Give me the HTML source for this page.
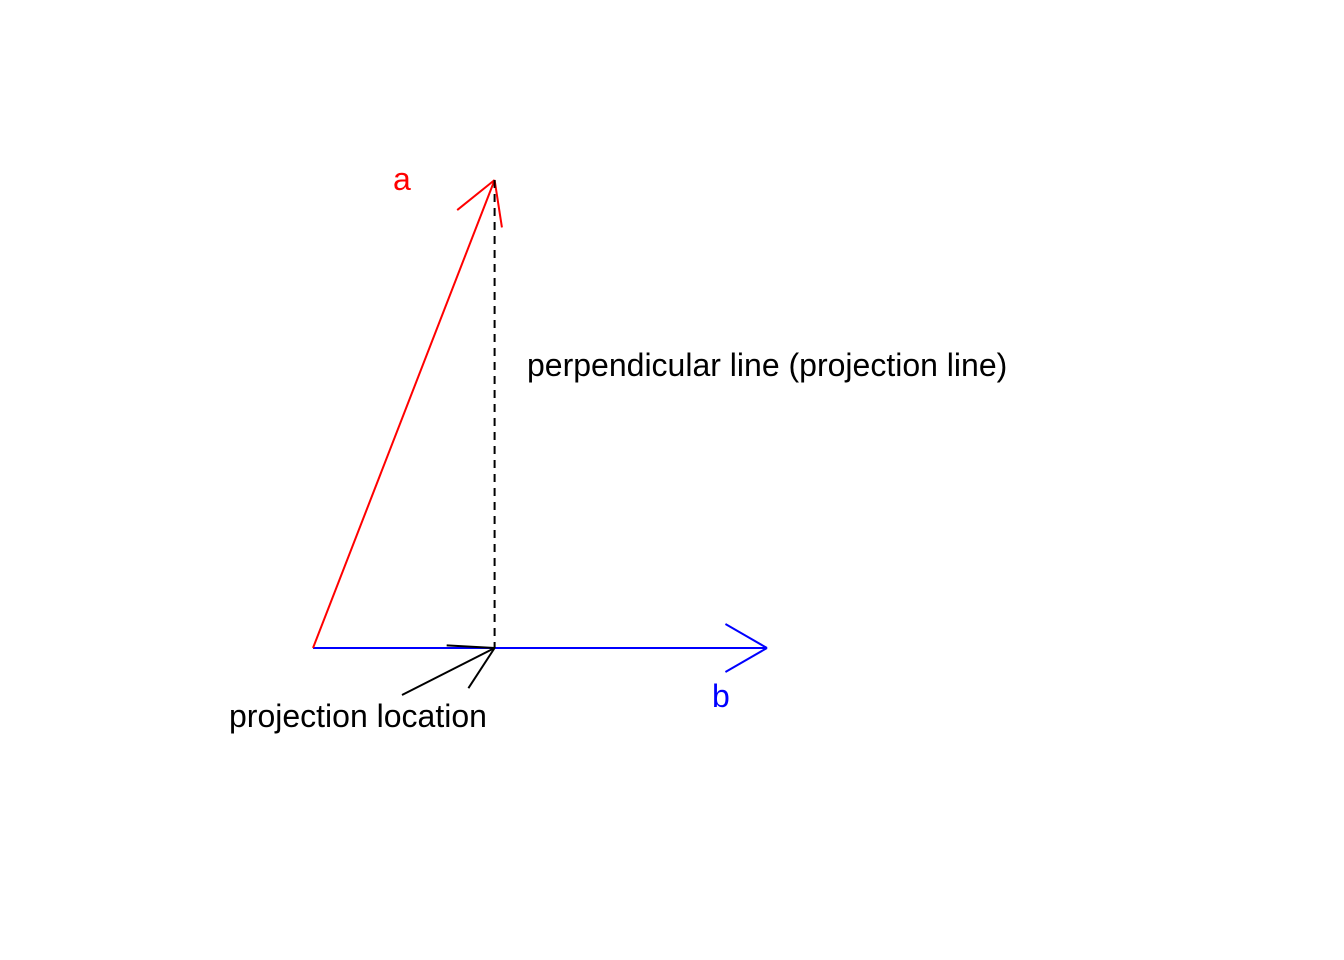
<!DOCTYPE html>
<html><head><meta charset="utf-8"><style>
html,body{margin:0;padding:0;background:#fff}
svg{display:block}
text{font-family:"Liberation Sans",Arial,sans-serif;font-size:32px}
</style></head><body>
<svg id="chart" width="1344" height="960" viewBox="0 0 1344 960"></svg>
<script>
const vecA = [2, 5];
const vecB = [5, 0];
const labels = ["a", "b", "perpendicular line (projection line)", "projection location"];
const sx = v => 313 + v * 90.8;
const sy = v => 648 - v * 93.6;
const svg = document.getElementById('chart');
const NS = 'http://www.w3.org/2000/svg';
function line(x1,y1,x2,y2,color,name,dash){
  const l=document.createElementNS(NS,'line');
  l.setAttribute('x1',x1);l.setAttribute('y1',y1);l.setAttribute('x2',x2);l.setAttribute('y2',y2);
  l.setAttribute('stroke',color);l.setAttribute('stroke-width',2);
  if(dash) l.setAttribute('stroke-dasharray',dash);
  
  
  svg.appendChild(l);return l;
}
function arrow(x1,y1,x2,y2,color,name){
  line(x1,y1,x2,y2,color,name);
  const ang=Math.atan2(y2-y1,x2-x1), L=48, h=Math.PI/6;
  for(const s of [-1,1]){
    const a=ang+Math.PI+s*h;
    line(x2,y2,x2+L*Math.cos(a),y2+L*Math.sin(a),color,name+'-head');
  }
}
function text(x,y,str,color,name){
  const t=document.createElementNS(NS,'text');
  t.setAttribute('x',x);t.setAttribute('y',y);t.setAttribute('fill',color);
  t.textContent=str;
  
  
  svg.appendChild(t);
}
const ox=sx(0), oy=sy(0);
const ax=sx(vecA[0]), ay=sy(vecA[1]);
const bx=sx(vecB[0]), by=sy(vecB[1]);
const dot=vecA[0]*vecB[0]+vecA[1]*vecB[1], bb=vecB[0]*vecB[0]+vecB[1]*vecB[1];
const px=sx(vecB[0]*dot/bb), py=sy(vecB[1]*dot/bb);
arrow(ox,oy,bx,by,'#0000ff','vector-b');
arrow(ox,oy,ax,ay,'#ff0000','vector-a');
line(ax,ay,px,py,'#000','projection-line','8,6');
arrow(402,695,px,py,'#000','projection-pointer');
text(393,190,labels[0],'#ff0000','label-a');
text(712,707,labels[1],'#0000ff','label-b');
text(527,376,labels[2],'#000','label-perpendicular');
text(229,727,labels[3],'#000','label-projection-location');
</script>
</body></html>
